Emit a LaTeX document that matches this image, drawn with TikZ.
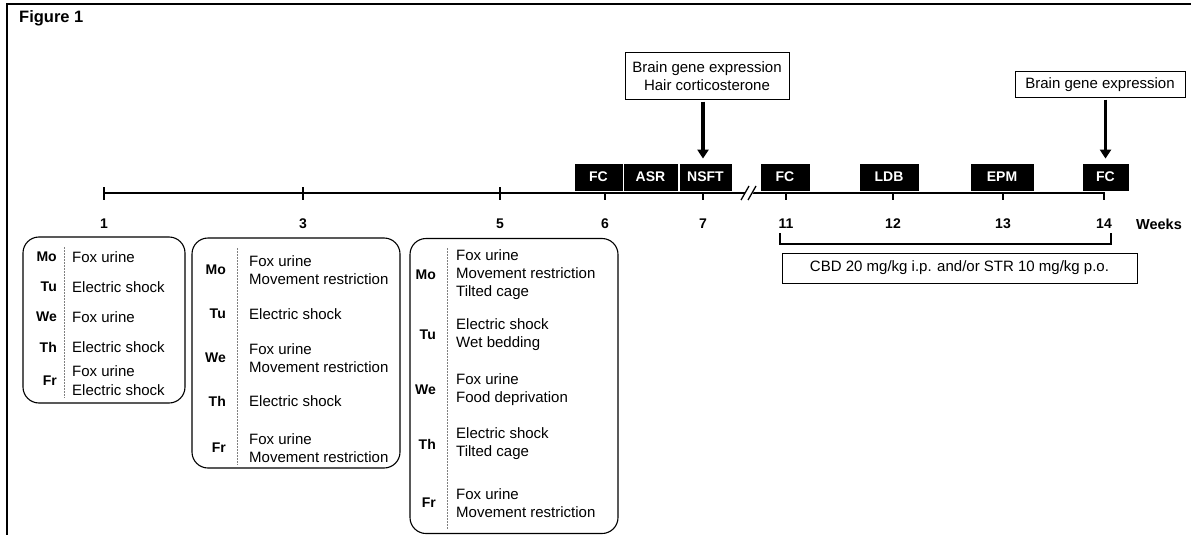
\documentclass[tikz,border=0pt]{standalone}
\usepackage{fontspec}
\setmainfont{Liberation Sans}
\usetikzlibrary{arrows.meta}
\begin{document}
\begin{tikzpicture}[x=1pt,y=-1pt,
  blk/.style={fill=black,draw=white,line width=0.8pt,text=white,font=\fontsize{14}{16}\selectfont\bfseries,minimum height=28pt,inner sep=0pt},
  wk/.style={font=\fontsize{14}{16}\selectfont\bfseries,inner sep=0pt},
  obox/.style={draw=black,line width=1pt,font=\fontsize{15}{18}\selectfont,align=center,inner sep=0pt},
  wbox/.style={draw=black,line width=1.1pt,rounded corners=16pt,inner sep=0pt},
  txt/.style={font=\fontsize{15}{18}\selectfont,anchor=west,align=left,inner sep=0pt},
  day/.style={font=\fontsize{14}{16}\selectfont\bfseries,anchor=east,inner sep=0pt},
  sep/.style={draw=gray,line width=0.7pt,dash pattern=on 1.5pt off 1.5pt},
  arr/.style={line width=3.5pt,-{Triangle[width=11pt,length=9pt]}},
  tick/.style={line width=1.4pt}]
\useasboundingbox (0,0) rectangle (1191,535);
% frame
\draw[line width=2pt] (7,535) -- (7,4) -- (1191,4);
\node[font=\fontsize{16.5}{18}\selectfont\bfseries,anchor=west,inner sep=0pt] (title) at (19,18) {Figure 1};
% ticks
\coordinate (t1) at (104,193);
\coordinate (t3) at (303,193);
\coordinate (t5) at (500,193);
\coordinate (t6) at (605,193);
\coordinate (t7) at (703,193);
\coordinate (t11) at (786,193);
\coordinate (t12) at (893,193);
\coordinate (t13) at (1003,193);
\coordinate (t14) at (1104,193);
\draw[line width=1.5pt] (t1) -- (t14);
\foreach \t in {t1,t3,t5,t6,t7,t11,t12,t13,t14}{
  \draw[tick] (\t) ++(0,-6) -- ++(0,13);
}
\foreach \t/\l in {t1/1,t3/3,t5/5,t6/6,t7/7,t11/11,t12/12,t13/13,t14/14}{
  \node[wk] (l\t) at ([yshift=-31pt]\t) {\l};
}
\node[wk,font=\fontsize{14.5}{16}\selectfont\bfseries] (weeks) at (1159,224) {Weeks};
% axis break
\fill[white] (741,200) -- (749,186) -- (757,186) -- (749,200) -- cycle;
\draw[line width=1.3pt] (741,200) -- (749,186);
\draw[line width=1.3pt] (748,200) -- (756,186);
% black test boxes
\node[blk,minimum width=49pt] (fc1) at (598.5,177) {FC};
\node[blk,minimum width=55pt] (asr) at (650.5,177) {ASR};
\node[blk,minimum width=53pt] (nsft) at (705.5,177) {NSFT};
\node[blk,minimum width=50pt] (fc2) at (785,177) {FC};
\node[blk,minimum width=60pt] (ldb) at (889,177) {LDB};
\node[blk,minimum width=64pt] (epm) at (1002,177) {EPM};
\node[blk,minimum width=47pt] (fc3) at (1105.5,177) {FC};
% top boxes and arrows
\node[obox,minimum width=164pt,minimum height=46pt] (top1) at (707,76) {Brain gene expression\\Hair corticosterone};
\node[obox,minimum width=170pt,minimum height=25pt] (top2) at (1100,84.5) {Brain gene expression};
\draw[arr,shorten <=2pt,shorten >=4pt] (top1.south -| t7) -- (nsft.north -| t7);
\draw[arr,shorten <=2pt,shorten >=4pt] (top2.south -| fc3) -- (fc3.north);
% bracket and treatment
\coordinate (bl) at (780,233);
\coordinate (br) at (1111,233);
\draw[line width=1.2pt] (bl) -- ++(0,11) -- ([yshift=-11pt]br) -- (br);
\node[obox,minimum width=355pt,minimum height=30pt] (cbd) at (959.5,268) {CBD 20 mg/kg i.p. and/or STR 10 mg/kg p.o.};
% week 1 box
\node[wbox,minimum width=162pt,minimum height=166pt] (w1) at (104,320) {};
\draw[sep] (64,247) -- (64,398);
\node[day] (w1mo) at (57,257) {Mo};
\node[day] (w1tu) at (57,287) {Tu};
\node[day] (w1we) at (57,317) {We};
\node[day] (w1th) at (57,347) {Th};
\node[day] (w1fr) at (57,381) {Fr};
\node[txt] (w1mot) at (72,257) {Fox urine};
\node[txt] (w1tut) at (72,287) {Electric shock};
\node[txt] (w1wet) at (72,317) {Fox urine};
\node[txt] (w1tht) at (72,347) {Electric shock};
\node[txt,font=\fontsize{15}{19}\selectfont] (w1frt) at (72,381) {Fox urine\\Electric shock};
% week 3 box
\node[wbox,minimum width=208pt,minimum height=230pt] (w2) at (296,353) {};
\draw[sep] (237,248) -- (237,465);
\node[day] (w2mo) at (226,270) {Mo};
\node[day] (w2tu) at (226,314) {Tu};
\node[day] (w2we) at (226,358) {We};
\node[day] (w2th) at (226,401) {Th};
\node[day] (w2fr) at (226,448) {Fr};
\node[txt] (w2mot) at (249,270) {Fox urine\\Movement restriction};
\node[txt] (w2tut) at (249,314) {Electric shock};
\node[txt] (w2wet) at (249,358) {Fox urine\\Movement restriction};
\node[txt] (w2tht) at (249,401) {Electric shock};
\node[txt] (w2frt) at (249,448) {Fox urine\\Movement restriction};
% week 5 box
\node[wbox,minimum width=208pt,minimum height=295pt] (w3) at (514,386) {};
\draw[sep] (447,248) -- (447,530);
\node[day] (w3mo) at (436,275) {Mo};
\node[day] (w3tu) at (436,335) {Tu};
\node[day] (w3we) at (436,390) {We};
\node[day] (w3th) at (436,444) {Th};
\node[day] (w3fr) at (436,503) {Fr};
\node[txt] (w3mot) at (456,275) {Fox urine\\Movement restriction\\Tilted cage};
\node[txt] (w3tut) at (456,335) {Electric shock\\Wet bedding};
\node[txt] (w3wet) at (456,390) {Fox urine\\Food deprivation};
\node[txt] (w3tht) at (456,444) {Electric shock\\Tilted cage};
\node[txt] (w3frt) at (456,503) {Fox urine\\Movement restriction};
\end{tikzpicture}
\end{document}
